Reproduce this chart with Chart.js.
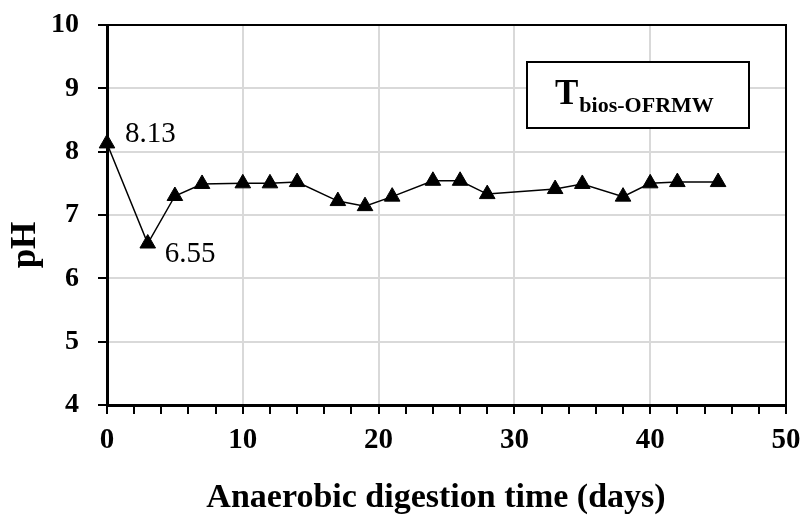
<!DOCTYPE html>
<html>
<head>
<meta charset="utf-8">
<script src="https://cdn.jsdelivr.net/npm/chart.js@4.4.1/dist/chart.umd.min.js"></script>
<style>
html,body{margin:0;padding:0;background:#fff;}
#wrap{width:805px;height:518px;position:relative;}
</style>
</head>
<body>
<div id="wrap"><canvas id="c" width="805" height="518"></canvas></div>
<script>
const days = [0, 3, 5, 7, 10, 12, 14, 17, 19, 21, 24, 26, 28, 33, 35, 38, 40, 42, 45];
const phValues = [8.13, 6.55, 7.30, 7.49, 7.50, 7.50, 7.52, 7.22, 7.14, 7.29, 7.54, 7.54, 7.33, 7.41, 7.49, 7.29, 7.50, 7.52, 7.52];
const xTickLabels = [0, 10, 20, 30, 40, 50];
const yTickLabels = [4, 5, 6, 7, 8, 9, 10];
const annotatedIdx = [0, 1];
const seriesName = 'T';
const seriesSub = 'bios-OFRMW';
const xTitle = 'Anaerobic digestion time (days)';
const yTitle = 'pH';

const FONT = "'Liberation Serif', 'Times New Roman', serif";
const GRID = '#d9d9d9';

const extras = {
  id: 'extras',
  afterDatasetsDraw(chart) {
    const ctx = chart.ctx;
    const a = chart.chartArea;
    const xs = chart.scales.x, ys = chart.scales.y;
    ctx.save();
    // top & right frame
    ctx.strokeStyle = '#000';
    ctx.lineWidth = 2;
    ctx.beginPath();
    ctx.moveTo(a.left, a.top);
    ctx.lineTo(a.right, a.top);
    ctx.lineTo(a.right, a.bottom);
    ctx.stroke();
    // value labels
    ctx.fillStyle = '#000';
    ctx.font = '29px ' + FONT;
    ctx.textBaseline = 'middle';
    ctx.textAlign = 'left';
    const offs = [[18, -9], [17, 11]];
    annotatedIdx.forEach((i, k) => {
      const px = xs.getPixelForValue(days[i]);
      const py = ys.getPixelForValue(phValues[i]);
      ctx.fillText(phValues[i].toFixed(2), px + offs[k][0], py + offs[k][1]);
    });
    // legend box
    const bx = 527, by = 62, bw = 222, bh = 66;
    ctx.fillStyle = '#fff';
    ctx.fillRect(bx, by, bw, bh);
    ctx.strokeStyle = '#000';
    ctx.lineWidth = 2;
    ctx.strokeRect(bx, by, bw, bh);
    ctx.fillStyle = '#000';
    ctx.textBaseline = 'alphabetic';
    ctx.font = 'bold 35px ' + FONT;
    ctx.fillText(seriesName, 555, 104);
    const tw = ctx.measureText(seriesName).width;
    ctx.font = 'bold 22px ' + FONT;
    ctx.fillText(seriesSub, 555 + tw + 1, 112);
    // axis titles
    ctx.font = 'bold 34px ' + FONT;
    ctx.textAlign = 'center';
    ctx.textBaseline = 'alphabetic';
    ctx.fillText(xTitle, 436, 507);
    ctx.font = 'bold 35px ' + FONT;
    ctx.translate(35, 245);
    ctx.rotate(-Math.PI / 2);
    ctx.fillText(yTitle, 0, 0);
    ctx.restore();
  }
};

new Chart(document.getElementById('c'), {
  type: 'scatter',
  data: {
    datasets: [{
      label: seriesName + seriesSub,
      data: days.map((d, i) => ({x: d, y: phValues[i]})),
      showLine: true,
      borderColor: '#000',
      borderWidth: 1.5,
      backgroundColor: '#000',
      pointStyle: 'triangle',
      pointRadius: 9,
      pointHoverRadius: 9,
      pointBackgroundColor: '#000',
      pointBorderColor: '#000',
      pointBorderWidth: 1,
      clip: false
    }]
  },
  options: {
    responsive: false,
    animation: false,
    events: [],
    layout: {padding: {top: 25, right: 19, left: 0, bottom: 0}},
    plugins: {legend: {display: false}, tooltip: {enabled: false}},
    scales: {
      x: {
        type: 'linear',
        min: 0, max: 50,
        afterFit(s) { s.height = 113; s.paddingLeft = 0; s.paddingRight = 0; },
        afterBuildTicks(s) {
          const t = [];
          for (let v = 0; v <= 50; v += 2) t.push({value: v});
          s.ticks = t;
        },
        ticks: {
          autoSkip: false,
          maxRotation: 0,
          padding: 9,
          color: '#000',
          font: {family: FONT, size: 29, weight: 'bold'},
          callback: v => xTickLabels.includes(v) ? String(v) : ''
        },
        grid: {
          color: c => (c.tick && c.tick.value % 10 === 0 && c.tick.value > 0 && c.tick.value < 50) ? GRID : 'rgba(0,0,0,0)',
          tickColor: '#000',
          lineWidth: 2,
          tickLength: 9
        },
        border: {color: '#000', width: 3},
        title: {display: false, text: xTitle}
      },
      y: {
        min: 4, max: 10,
        afterFit(s) { s.width = 107; s.paddingTop = 0; s.paddingBottom = 0; },
        afterBuildTicks(s) { s.ticks = yTickLabels.map(v => ({value: v})); },
        ticks: {
          padding: 19,
          color: '#000',
          font: {family: FONT, size: 28, weight: 'bold'}
        },
        grid: {
          color: c => (c.tick && c.tick.value > 4 && c.tick.value < 10) ? GRID : 'rgba(0,0,0,0)',
          tickColor: '#000',
          lineWidth: 2,
          tickLength: 9
        },
        border: {color: '#000', width: 3},
        title: {display: false, text: yTitle}
      }
    }
  },
  plugins: [extras]
});
</script>
</body>
</html>
